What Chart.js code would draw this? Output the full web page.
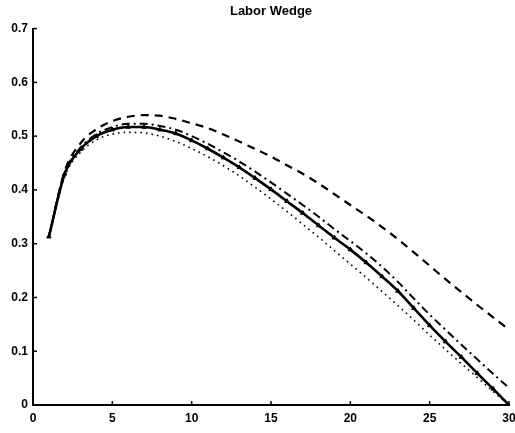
<!DOCTYPE html>
<html>
<head>
<meta charset="utf-8">
<script src="https://cdn.jsdelivr.net/npm/chart.js@4/dist/chart.umd.min.js"></script>
<style>
  html, body { margin: 0; padding: 0; background: #fff; }
  #wrap { width: 515px; height: 433px; }
</style>
</head>
<body>
<div id="wrap"><canvas id="chart"></canvas></div>
<script>
// Periods on the x axis
const periods = [1,2,3,4,5,6,7,8,9,10,11,12,13,14,15,16,17,18,19,20,21,22,23,24,25,26,27,28,29,30];

// Series
const solidLine = [0.313,0.43,0.476,0.5,0.512,0.517,0.517,0.512,0.505,0.492,0.477,0.46,0.442,0.422,0.401,0.379,0.357,0.334,0.311,0.289,0.265,0.239,0.212,0.18,0.148,0.118,0.089,0.059,0.03,0.0];
const dashedLine = [0.313,0.435,0.487,0.513,0.528,0.536,0.539,0.538,0.532,0.524,0.515,0.503,0.49,0.476,0.462,0.446,0.43,0.412,0.392,0.372,0.352,0.331,0.308,0.284,0.259,0.234,0.21,0.186,0.163,0.14];
const dashDotLine = [0.313,0.432,0.479,0.504,0.517,0.523,0.523,0.519,0.512,0.5,0.486,0.47,0.453,0.434,0.414,0.393,0.372,0.35,0.327,0.305,0.282,0.257,0.229,0.198,0.168,0.14,0.112,0.085,0.058,0.032];
const dottedLine = [0.313,0.425,0.47,0.493,0.504,0.507,0.506,0.5,0.49,0.477,0.462,0.445,0.426,0.405,0.383,0.36,0.336,0.312,0.287,0.262,0.237,0.211,0.185,0.158,0.13,0.103,0.077,0.051,0.025,0.0];

const xTicks = [0,5,10,15,20,25,30];
const yTicks = [0,0.1,0.2,0.3,0.4,0.5,0.6,0.7];

const toPoints = vals => vals.map((v, i) => ({ x: periods[i], y: v }));

// MATLAB style ticks pointing into the plot
const inwardTicks = {
  id: 'inwardTicks',
  afterDraw(chart) {
    const { ctx, chartArea, scales } = chart;
    ctx.save();
    ctx.strokeStyle = '#000';
    ctx.lineWidth = 1.5;
    xTicks.forEach(t => {
      const px = scales.x.getPixelForValue(t);
      ctx.beginPath();
      ctx.moveTo(px, chartArea.bottom);
      ctx.lineTo(px, chartArea.bottom - 4);
      ctx.stroke();
    });
    yTicks.forEach(t => {
      const py = scales.y.getPixelForValue(t);
      ctx.beginPath();
      ctx.moveTo(chartArea.left, py);
      ctx.lineTo(chartArea.left + 4, py);
      ctx.stroke();
    });
    ctx.restore();
  }
};

const tickFont = { family: 'Liberation Sans, Arial, sans-serif', size: 12, weight: 'bold' };

new Chart(document.getElementById('chart'), {
  type: 'line',
  data: {
    datasets: [
      {
        label: 'dashed',
        data: toPoints(dashedLine),
        borderColor: '#000',
        borderWidth: 2.2,
        borderDash: [8, 6],
        pointRadius: 0,
        cubicInterpolationMode: 'monotone'
      },
      {
        label: 'dash-dot',
        data: toPoints(dashDotLine),
        borderColor: '#000',
        borderWidth: 2,
        borderDash: [8, 4, 2, 4],
        pointRadius: 0,
        cubicInterpolationMode: 'monotone'
      },
      {
        label: 'dotted',
        data: toPoints(dottedLine),
        borderColor: '#000',
        borderWidth: 1.6,
        borderDash: [1.6, 4],
        pointRadius: 0,
        cubicInterpolationMode: 'monotone'
      },
      {
        label: 'solid',
        data: toPoints(solidLine),
        borderColor: '#000',
        backgroundColor: '#000',
        borderWidth: 2.6,
        pointStyle: 'triangle',
        pointRadius: 2.5,
        pointBorderWidth: 1,
        cubicInterpolationMode: 'monotone'
      }
    ]
  },
  options: {
    responsive: true,
    maintainAspectRatio: false,
    animation: false,
    layout: { padding: { left: 0, right: 6, top: 0, bottom: 0 } },
    plugins: {
      legend: { display: false },
      tooltip: { enabled: false },
      title: {
        display: true,
        text: 'Labor Wedge',
        color: '#000',
        fullSize: false,
        font: { family: 'Liberation Sans, Arial, sans-serif', size: 13, weight: 'bold' },
        padding: { top: 4, bottom: 9 }
      }
    },
    scales: {
      x: {
        type: 'linear',
        min: 0,
        max: 30,
        afterBuildTicks: s => { s.ticks = xTicks.map(v => ({ value: v })); },
        afterFit: s => { s.height = 28; s.paddingLeft = 0; s.paddingRight = 0; },
        grid: { drawOnChartArea: false, drawTicks: false },
        border: { display: true, color: '#000', width: 2 },
        ticks: { color: '#000', font: tickFont, padding: 6, maxRotation: 0 }
      },
      y: {
        min: 0,
        max: 0.7,
        afterBuildTicks: s => { s.ticks = yTicks.map(v => ({ value: v })); },
        afterFit: s => { s.width = 33; },
        grid: { drawOnChartArea: false, drawTicks: false },
        border: { display: true, color: '#000', width: 2 },
        ticks: {
          color: '#000',
          font: tickFont,
          padding: 5,
          callback: v => (v === 0 ? '0' : v.toFixed(1))
        }
      }
    }
  },
  plugins: [inwardTicks]
});
</script>
</body>
</html>
